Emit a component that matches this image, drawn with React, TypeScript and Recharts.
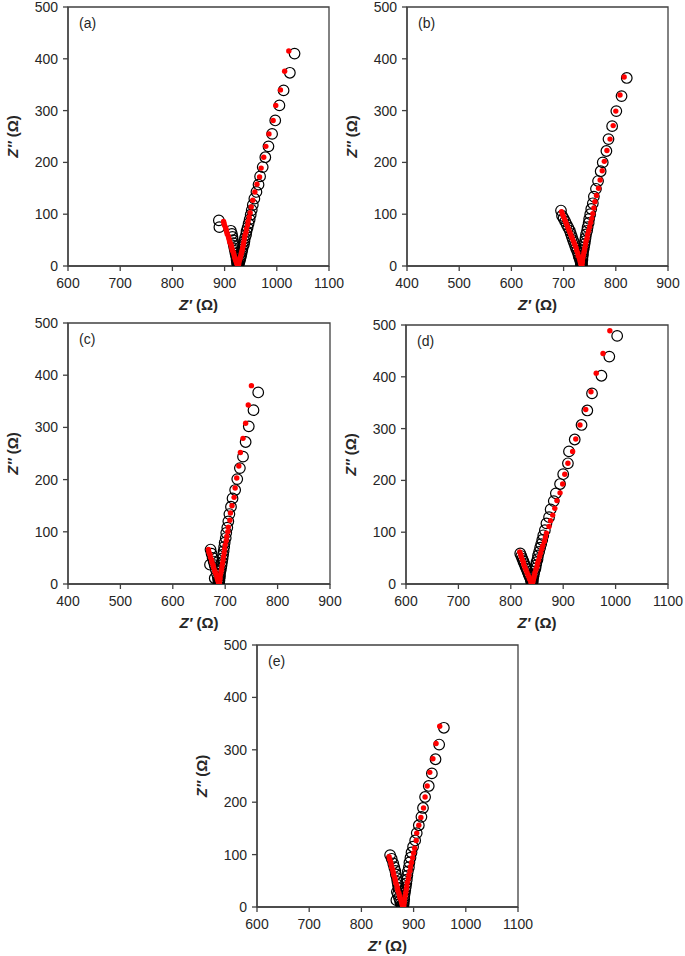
import React from 'react';
import { ScatterChart, Scatter, XAxis, YAxis, ReferenceArea, Label } from 'recharts';

const FONT = "'Liberation Sans', Arial, Helvetica, sans-serif";
const AXIS = '#404040';
const TEXT = '#262626';

const yTicks = [0, 100, 200, 300, 400, 500];
const xTicksHigh = [600, 700, 800, 900, 1000, 1100];
const xTicksLow = [400, 500, 600, 700, 800, 900];

// Panel (a)
const expA: [number, number][] = [
  [889, 88], [890, 75], [912, 68], [914, 62], [915, 56], [916, 50], [917, 44], [918, 39], [919, 34], [920, 29],
  [921, 24], [922, 20], [923, 16], [923, 12], [924, 9], [924, 6], [925, 4], [925, 2], [926, 1],
  [926, 2], [927, 4], [928, 7], [929, 10], [930, 14], [931, 18], [932, 22], [933, 27], [934, 32], [935, 37],
  [937, 42], [938, 48], [939, 54], [941, 60], [942, 67], [944, 74], [946, 82], [948, 90], [950, 99], [952, 108],
  [954, 118], [957, 130], [961, 143], [965, 157], [968, 173], [973, 191], [978, 210], [984, 231], [991, 255],
  [997, 281], [1005, 310], [1013, 339], [1025, 373], [1034, 410],
];
const fitA: [number, number][] = [
  [898, 86], [899, 82], [900, 78], [902, 74], [903, 70], [904, 66], [905, 62], [907, 58], [908, 54], [909, 50],
  [910, 46], [912, 42], [913, 38], [914, 34], [915, 30], [917, 26], [918, 22], [919, 18], [920, 15], [921, 12],
  [922, 9], [923, 6], [924, 4], [925, 2], [925, 1],
  [926, 2], [927, 4], [927, 7], [928, 10], [929, 13], [930, 16], [931, 20], [932, 24], [933, 28], [934, 32],
  [935, 37], [936, 42], [937, 47], [938, 53], [939, 59], [941, 65], [942, 72], [944, 79], [945, 86], [947, 94],
  [949, 103], [951, 114], [954, 127], [958, 143], [962, 158], [967, 172], [970, 189], [975, 210], [979, 231],
  [985, 255], [993, 281], [998, 310], [1007, 340], [1015, 376], [1023, 415],
];

// Panel (b)
const expB: [number, number][] = [
  [695, 107], [697, 97], [700, 92], [703, 86], [706, 80], [709, 74], [712, 68], [714, 62], [716, 56], [718, 50],
  [720, 45], [722, 39], [724, 34], [726, 29], [728, 24], [729, 19], [731, 14], [732, 10], [733, 6], [734, 3], [734, 1],
  [735, 2], [735, 5], [735, 8], [736, 12], [736, 16], [737, 21], [737, 26], [738, 31], [739, 36], [740, 42],
  [741, 48], [742, 54], [743, 61], [745, 68], [746, 75], [748, 83], [749, 91], [751, 100], [753, 110],
  [756, 121], [758, 134], [762, 149], [766, 164], [771, 183], [775, 200], [782, 222], [786, 245], [793, 270],
  [801, 299], [811, 328], [821, 363],
];
const fitB: [number, number][] = [
  [696, 105], [698, 100], [700, 95], [702, 90], [704, 85], [706, 80], [708, 75], [710, 70], [712, 65], [714, 60],
  [716, 55], [718, 50], [720, 45], [722, 40], [724, 35], [725, 30], [727, 25], [728, 20], [730, 16], [731, 12],
  [732, 8], [733, 5], [734, 2],
  [735, 2], [735, 5], [736, 8], [736, 12], [737, 16], [738, 21], [739, 26], [740, 31], [741, 36], [742, 42],
  [743, 48], [745, 54], [746, 61], [748, 68], [750, 76], [752, 84], [754, 92], [756, 101], [758, 112],
  [760, 124], [763, 136], [767, 150], [770, 166], [774, 184], [778, 202], [783, 223], [789, 245], [795, 271],
  [800, 299], [808, 330], [816, 365],
];

// Panel (c)
const expC: [number, number][] = [
  [672, 66], [674, 58], [676, 50], [678, 43], [671, 37], [680, 36], [682, 28], [684, 20], [680, 11], [686, 12],
  [687, 6], [688, 2],
  [688, 1], [688, 4], [689, 7], [689, 11], [690, 15], [690, 20], [691, 25], [692, 30], [693, 36], [694, 42],
  [695, 49], [696, 56], [697, 63], [698, 71], [699, 79], [701, 88], [702, 98], [704, 108], [706, 120],
  [708, 134], [711, 148], [714, 164], [719, 180], [723, 201], [728, 222], [734, 244], [739, 272], [745, 302],
  [754, 333], [763, 367],
];
const fitC: [number, number][] = [
  [668, 66], [669, 61], [671, 56], [672, 51], [674, 46], [675, 41], [677, 36], [678, 31], [680, 26], [681, 22],
  [683, 18], [684, 14], [685, 10], [686, 7], [687, 4], [688, 1],
  [689, 2], [689, 5], [690, 9], [690, 13], [691, 18], [692, 23], [693, 28], [694, 34], [695, 40], [696, 46],
  [697, 53], [698, 60], [699, 67], [700, 75], [702, 83], [703, 91], [705, 100], [706, 109], [709, 122],
  [710, 136], [713, 150], [717, 166], [719, 184], [722, 203], [726, 226], [729, 252], [734, 279], [739, 308],
  [744, 343], [750, 380],
];

// Panel (d)
const expD: [number, number][] = [
  [818, 59], [820, 54], [822, 49], [824, 44], [826, 39], [828, 34], [830, 29], [832, 24], [834, 19], [836, 14],
  [838, 9], [839, 5], [840, 2],
  [841, 1], [841, 3], [842, 6], [842, 10], [843, 14], [844, 19], [845, 24], [847, 30], [848, 36], [849, 42],
  [851, 48], [852, 55], [854, 62], [856, 70], [858, 77], [860, 85], [862, 94], [865, 104], [868, 117],
  [873, 129], [876, 144], [882, 160], [886, 175], [894, 193], [900, 212], [909, 233], [911, 256], [922, 279],
  [935, 307], [946, 335], [955, 368], [973, 402], [988, 439], [1003, 479],
];
const fitD: [number, number][] = [
  [817, 62], [819, 57], [820, 52], [822, 47], [824, 42], [825, 37], [827, 32], [829, 27], [831, 22], [833, 17],
  [835, 13], [836, 9], [838, 5], [839, 2],
  [841, 1], [842, 4], [843, 8], [844, 12], [845, 17], [846, 22], [848, 28], [850, 34], [851, 40], [853, 46],
  [855, 53], [857, 60], [859, 67], [861, 74], [864, 82], [866, 90], [868, 98], [873, 111], [876, 122],
  [880, 133], [884, 146], [888, 161], [894, 176], [899, 193], [903, 212], [909, 233], [918, 256], [924, 280],
  [932, 307], [943, 337], [953, 371], [963, 407], [976, 445], [989, 489],
];

// Panel (e)
const expE: [number, number][] = [
  [855, 99], [858, 92], [861, 83], [863, 76], [865, 69], [866, 62], [868, 55], [869, 48], [870, 42], [871, 36],
  [868, 29], [870, 24], [872, 18], [867, 13], [874, 12], [875, 7], [877, 4], [878, 1],
  [880, 3], [881, 6], [881, 10], [882, 15], [882, 20], [883, 26], [884, 32], [885, 38], [886, 45], [887, 52],
  [888, 60], [889, 68], [891, 76], [892, 85], [894, 94], [896, 104], [899, 115], [903, 127], [906, 141],
  [910, 156], [915, 172], [918, 189], [922, 210], [929, 231], [935, 255], [942, 282], [949, 310], [958, 342],
];
const fitE: [number, number][] = [
  [853, 96], [854, 91], [856, 86], [857, 81], [858, 76], [860, 71], [861, 66], [862, 61], [864, 56], [865, 51],
  [866, 46], [868, 41], [869, 36], [870, 31], [872, 26], [873, 21], [874, 17], [876, 13], [877, 9], [878, 5],
  [879, 2],
  [881, 1], [881, 4], [882, 8], [882, 12], [883, 17], [884, 22], [885, 28], [886, 34], [887, 40], [888, 47],
  [890, 54], [891, 61], [893, 69], [894, 77], [896, 85], [898, 94], [900, 103], [902, 112], [905, 127],
  [906, 141], [910, 156], [914, 171], [919, 189], [922, 210], [926, 231], [931, 257], [937, 283], [943, 312],
  [950, 345],
];

type Pair = [number, number];
interface PanelCfg {
  tag: string;
  left: number;
  top: number;
  w: number;
  h: number;
  xTicks: number[];
  exp: Pair[];
  fit: Pair[];
}

const panels: PanelCfg[] = [
  { tag: '(a)', left: 68, top: 7, w: 261, h: 259, xTicks: xTicksHigh, exp: expA, fit: fitA },
  { tag: '(b)', left: 407, top: 7, w: 261, h: 259, xTicks: xTicksLow, exp: expB, fit: fitB },
  { tag: '(c)', left: 68, top: 323, w: 262, h: 261, xTicks: xTicksLow, exp: expC, fit: fitC },
  { tag: '(d)', left: 406, top: 325, w: 262, h: 259, xTicks: xTicksHigh, exp: expD, fit: fitD },
  { tag: '(e)', left: 257, top: 645, w: 261, h: 262, xTicks: xTicksHigh, exp: expE, fit: fitE },
];

const YW = 70;
const MT = 7;
const MR = 30;
const XH = 55;

const toPoints = (arr: Pair[]) => arr.map(([x, y]) => ({ x, y }));

const OpenCircle = (props: any) => {
  const { cx, cy } = props;
  if (cx == null || cy == null) return <g />;
  return <circle cx={cx} cy={cy} r={5.3} fill="none" stroke="#000" strokeWidth={1.2} />;
};

const RedDot = (props: any) => {
  const { cx, cy } = props;
  if (cx == null || cy == null) return <g />;
  return <circle cx={cx} cy={cy} r={2.7} fill="#ff0000" stroke="none" />;
};

const tickStyle = { fontSize: 14, fill: TEXT, fontFamily: FONT };

function Panel({ cfg }: { cfg: PanelCfg }) {
  const width = cfg.w + YW + MR;
  const height = cfg.h + MT + XH;
  const xMin = cfg.xTicks[0];
  const xMax = cfg.xTicks[cfg.xTicks.length - 1];
  const xTitle = () => (
    <text
      x={YW + cfg.w / 2}
      y={MT + cfg.h + 44}
      textAnchor="middle"
      fontFamily={FONT}
      fontSize={15}
      fontWeight="bold"
      fill={TEXT}
    >
      <tspan fontStyle="italic">Z′</tspan>
      <tspan> (Ω)</tspan>
    </text>
  );
  const yTitle = () => {
    const cx = YW - 50;
    const cy = MT + cfg.h / 2;
    return (
      <text
        x={cx}
        y={cy}
        transform={`rotate(-90, ${cx}, ${cy})`}
        textAnchor="middle"
        fontFamily={FONT}
        fontSize={15}
        fontWeight="bold"
        fill={TEXT}
      >
        <tspan fontStyle="italic">Z″</tspan>
        <tspan> (Ω)</tspan>
      </text>
    );
  };
  return (
    <div style={{ position: 'absolute', left: cfg.left - YW, top: cfg.top - MT, width, height }}>
      <ScatterChart width={width} height={height} margin={{ top: MT, right: MR, bottom: 0, left: 0 }}>
        <XAxis
          type="number"
          dataKey="x"
          domain={[xMin, xMax]}
          ticks={cfg.xTicks}
          allowDataOverflow
          height={XH}
          tickSize={5}
          tickMargin={7}
          stroke={AXIS}
          strokeWidth={1.3}
          tick={tickStyle}
          interval={0}
        >
          <Label content={xTitle} />
        </XAxis>
        <YAxis
          type="number"
          dataKey="y"
          domain={[0, 500]}
          ticks={yTicks}
          allowDataOverflow
          width={YW}
          tickSize={5}
          tickMargin={5}
          stroke={AXIS}
          strokeWidth={1.3}
          tick={tickStyle}
          interval={0}
        >
          <Label content={yTitle} />
        </YAxis>
        <ReferenceArea
          x1={xMin}
          x2={xMax}
          y1={0}
          y2={500}
          fill="none"
          fillOpacity={0}
          stroke={AXIS}
          strokeWidth={1.3}
          strokeOpacity={1}
        />
        <Scatter data={toPoints(cfg.exp)} shape={OpenCircle} isAnimationActive={false} />
        <Scatter data={toPoints(cfg.fit)} shape={RedDot} isAnimationActive={false} />
      </ScatterChart>
      <div
        style={{
          position: 'absolute',
          left: YW + 11,
          top: MT + 9,
          fontFamily: FONT,
          fontSize: 14,
          lineHeight: '15px',
          color: TEXT,
        }}
      >
        {cfg.tag}
      </div>
    </div>
  );
}

export default function App() {
  return (
    <div
      style={{
        position: 'absolute',
        left: 0,
        top: 0,
        width: 685,
        height: 956,
        background: '#fff',
      }}
    >
      {panels.map((p) => (
        <Panel key={p.tag} cfg={p} />
      ))}
    </div>
  );
}
